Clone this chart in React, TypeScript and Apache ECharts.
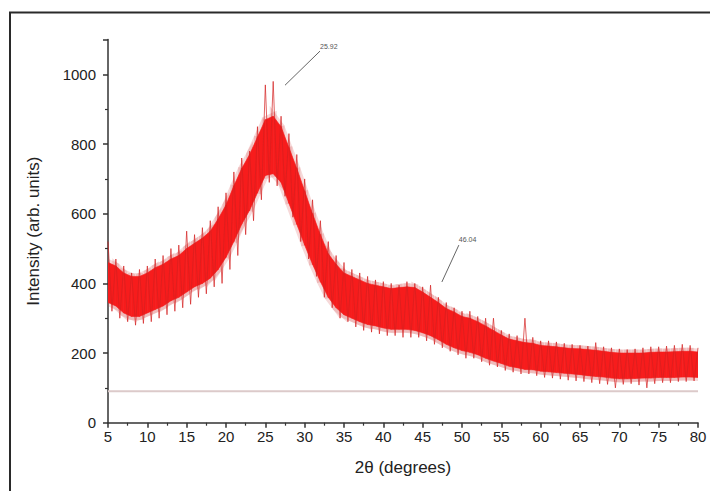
import React, { useEffect, useRef } from "react";
import * as echarts from "echarts";

// 2θ grid of the dense band (degrees)
const bandAngles = [
  5, 6, 7, 8, 9, 10, 11, 12, 13, 14, 15, 16, 17, 18, 19, 20, 21, 22, 23, 24, 25,
  26, 27, 28, 29, 30, 31, 32, 33, 34, 35, 36, 37, 38, 39, 40, 41, 42, 43, 44, 45,
  46, 47, 48, 49, 50, 51, 52, 53, 54, 55, 56, 57, 58, 59, 60, 61, 62, 63, 64, 65,
  66, 67, 68, 69, 70, 71, 72, 73, 74, 75, 76, 77, 78, 79, 80,
];
// upper / lower edge of the dense red band (arb. units)
const bandHigh = [
  460, 450, 430, 420, 420, 430, 445, 455, 470, 480, 500, 515, 530, 550, 585, 625, 680,
  730, 770, 820, 870, 880, 850, 790, 730, 665, 600, 540, 485, 455, 430, 420, 410, 400,
  395, 390, 385, 388, 390, 388, 375, 360, 345, 328, 318, 305, 300, 290, 278, 265, 252,
  240, 235, 230, 228, 222, 220, 218, 215, 213, 212, 210, 208, 205, 202, 200, 200, 200,
  200, 202, 203, 203, 204, 205, 205, 203,
];
const bandLow = [
  345, 335, 315, 305, 305, 315, 325, 335, 350, 360, 375, 390, 400, 415, 440, 475, 520,
  570, 610, 660, 710, 715, 690, 630, 570, 510, 455, 405, 360, 330, 310, 300, 290, 282,
  278, 272, 268, 268, 268, 265, 258, 250, 238, 225, 215, 207, 202, 195, 185, 177, 170,
  162, 158, 153, 152, 148, 146, 144, 142, 140, 138, 135, 133, 131, 128, 126, 126, 127,
  128, 128, 130, 130, 130, 131, 131, 130,
];
// noisy trace, read every 0.5° from 5° to 80° (alternating highs and lows)
const traceStart = 5;
const traceStep = 0.5;
const traceValues = [
  520, 320, 470, 300, 450, 290, 430, 280, 440, 285, 450, 290, 470, 300, 480, 310, 500,
  320, 510, 330, 550, 340, 540, 360, 560, 370, 580, 390, 620, 400, 660, 440, 720, 480,
  760, 540, 780, 580, 850, 640, 970, 690, 980, 680, 880, 650, 830, 590, 770, 520, 700,
  470, 640, 420, 580, 360, 520, 330, 480, 300, 460, 290, 440, 275, 430, 265, 420, 260,
  410, 255, 405, 250, 400, 250, 395, 245, 405, 245, 400, 245, 390, 235, 395, 225, 360,
  215, 345, 205, 330, 195, 320, 185, 320, 185, 305, 175, 300, 165, 300, 160, 265, 150,
  255, 145, 250, 140, 300, 140, 245, 135, 235, 130, 235, 128, 232, 125, 228, 122, 225,
  120, 222, 118, 220, 115, 230, 112, 218, 110, 215, 100, 212, 110, 210, 112, 212, 108,
  215, 100, 218, 112, 218, 115, 220, 115, 222, 118, 225, 118, 222, 120, 215,
];
const baselineValue = 90;
const peakLabels = ["25.92", "46.04"];
const xTickValues = [5, 10, 15, 20, 25, 30, 35, 40, 45, 50, 55, 60, 65, 70, 75, 80];
const yTickValues = [0, 200, 400, 600, 800, 1000];

export default function App() {
  const ref = useRef<HTMLDivElement>(null);
  useEffect(() => {
    if (!ref.current) return;
    const chart = echarts.init(ref.current, null, { renderer: "svg" });
    const bandRows = bandAngles.slice(0, -1).map((x, i) => [
      x,
      bandLow[i],
      bandHigh[i],
      bandAngles[i + 1],
      bandLow[i + 1],
      bandHigh[i + 1],
    ]);
    const traceData = traceValues.map((v, i) => [traceStart + i * traceStep, v]);
    const font = "'Liberation Sans', Arial, sans-serif";
    const quad = (fill: string, stroke: string, lw: number) => (params: any, api: any) => {
      const a = api.coord([api.value(0), api.value(1)]);
      const b = api.coord([api.value(0), api.value(2)]);
      const c = api.coord([api.value(3), api.value(5)]);
      const d = api.coord([api.value(3), api.value(4)]);
      return {
        type: "polygon",
        shape: { points: [a, b, c, d] },
        style: { fill, stroke, lineWidth: lw },
      };
    };
    chart.setOption({
      animation: false,
      backgroundColor: "#ffffff",
      grid: { left: 108, right: 12, top: 39.6, bottom: 68.3 },
      graphic: [
        {
          type: "rect",
          shape: { x: 10, y: 12.5, width: 720, height: 500 },
          style: { fill: "none", stroke: "#2a2a2a", lineWidth: 2 },
          silent: true,
        },
      ],
      xAxis: {
        type: "value",
        min: xTickValues[0],
        max: xTickValues[xTickValues.length - 1],
        interval: 5,
        name: "2θ (degrees)",
        nameLocation: "middle",
        nameGap: 36,
        nameTextStyle: { fontSize: 17, color: "#222", fontFamily: font },
        axisLine: { lineStyle: { color: "#333", width: 1.5 } },
        axisTick: { inside: false, length: 5, lineStyle: { color: "#333", width: 1.5 } },
        minorTick: { show: true, splitNumber: 2, length: 3, lineStyle: { color: "#333", width: 1.2 } },
        axisLabel: { fontSize: 15, color: "#222", fontFamily: font, margin: 6 },
        splitLine: { show: false },
      },
      yAxis: {
        type: "value",
        min: yTickValues[0],
        max: 1100,
        interval: 200,
        name: "Intensity (arb. units)",
        nameLocation: "middle",
        nameGap: 66,
        nameTextStyle: { fontSize: 17, color: "#222", fontFamily: font },
        axisLine: { show: true, lineStyle: { color: "#333", width: 1.5 } },
        axisTick: { show: true, inside: false, length: 5, lineStyle: { color: "#333", width: 1.5 } },
        minorTick: { show: true, splitNumber: 2, length: 3, lineStyle: { color: "#333", width: 1.2 } },
        axisLabel: {
          fontSize: 15,
          color: "#222",
          fontFamily: font,
          margin: 12,
          showMaxLabel: false,
          formatter: (v: number) => String(v),
        },
        splitLine: { show: false },
      },
      series: [
        {
          type: "line",
          name: "baseline",
          data: [
            [xTickValues[0], baselineValue],
            [xTickValues[xTickValues.length - 1], baselineValue],
          ],
          showSymbol: false,
          lineStyle: { color: "#dccaca", width: 2 },
          silent: true,
          z: 1,
        },
        {
          type: "custom",
          name: "halo",
          data: bandRows,
          encode: { x: [0, 3], y: [1, 2, 4, 5] },
          silent: true,
          clip: true,
          z: 2,
          renderItem: quad("rgba(225,70,70,0.25)", "rgba(215,80,80,0.22)", 7),
        },
        {
          type: "custom",
          name: "band",
          data: bandRows,
          encode: { x: [0, 3], y: [1, 2, 4, 5] },
          silent: true,
          clip: true,
          z: 3,
          renderItem: quad("#f71c1c", "#f71c1c", 0.6),
        },
        {
          type: "line",
          name: "trace",
          data: traceData,
          showSymbol: false,
          lineStyle: { color: "#d42020", width: 0.7 },
          silent: true,
          z: 4,
          markLine: {
            silent: true,
            symbol: ["none", "none"],
            label: { show: false },
            lineStyle: { color: "#666", width: 1, type: "solid" },
            data: [
              [{ coord: [27.5, 969] }, { coord: [31.95, 1067] }],
              [{ coord: [47.44, 404] }, { coord: [49.6, 510] }],
            ],
          },
          markPoint: {
            silent: true,
            symbol: "circle",
            symbolSize: 0,
            label: {
              show: true,
              position: "right",
              distance: 0,
              fontSize: 7,
              color: "#555",
              fontFamily: font,
            },
            data: [
              { coord: [31.95, 1081], label: { formatter: peakLabels[0] } },
              { coord: [49.6, 525], label: { formatter: peakLabels[1] } },
            ],
          },
        },
      ],
    });
    return () => chart.dispose();
  }, []);
  return (
    <div
      ref={ref}
      style={{ position: "fixed", left: 0, top: 0, width: 710, height: 491 }}
    />
  );
}
